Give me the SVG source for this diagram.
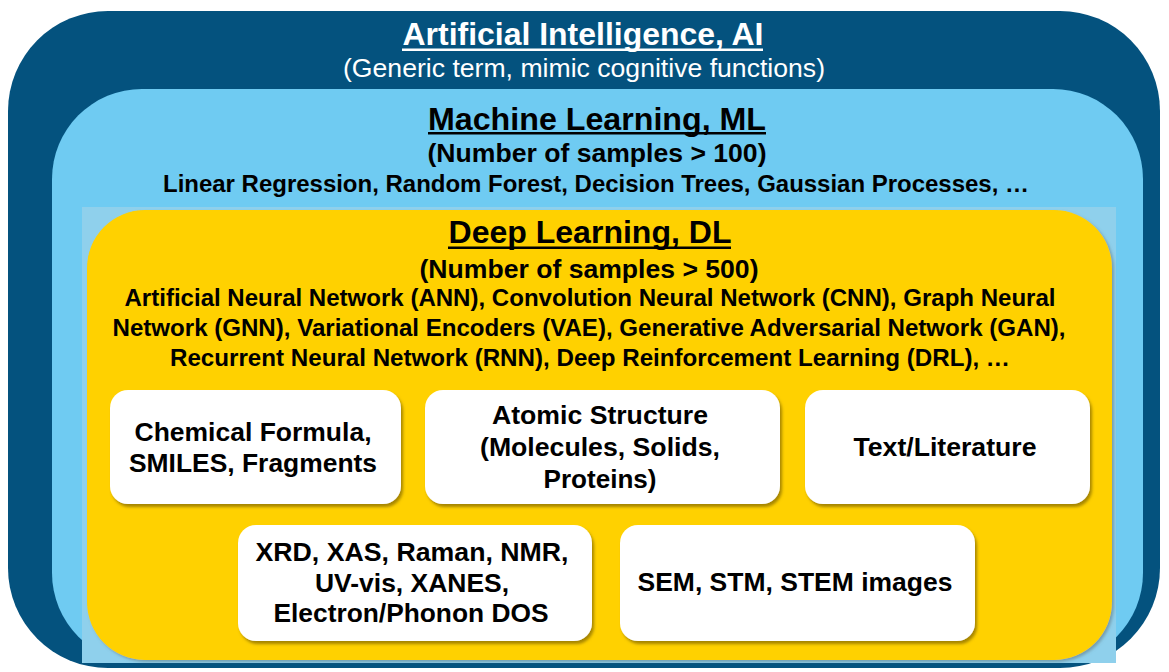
<svg xmlns="http://www.w3.org/2000/svg" width="1169" height="672" viewBox="0 0 1169 672">
<defs>
<filter id="sh" x="-5%" y="-5%" width="112%" height="115%">
<feDropShadow dx="2" dy="3" stdDeviation="1.5" flood-color="#6b5300" flood-opacity="0.6"/>
</filter>
<filter id="shy" x="-5%" y="-5%" width="112%" height="115%">
<feDropShadow dx="2" dy="2" stdDeviation="1.5" flood-color="#5a6a70" flood-opacity="0.5"/>
</filter>
<style>
text{font-family:"Liberation Sans",Arial,sans-serif;text-anchor:middle;}
.b{font-weight:bold;fill:#000;}
.box{fill:#fff;}
.w{fill:#fff;}
.bt{font-size:26px;}
.dl{font-size:24px;}
</style>
</defs>
<rect width="1169" height="672" fill="#fff"/>
<g id="ai">
<rect x="8" y="11" width="1152" height="657" rx="100" fill="#04527e"/>
<text x="583" y="45" class="w" font-weight="bold" font-size="31" textLength="361" lengthAdjust="spacingAndGlyphs">Artificial Intelligence, AI</text>
<rect x="402" y="48.5" width="361" height="2.5" fill="#fff"/>
<text x="584" y="77" class="w" font-size="25.5" textLength="482" lengthAdjust="spacingAndGlyphs">(Generic term, mimic cognitive functions)</text>
</g>
<g id="ml">
<rect x="52" y="89" width="1091" height="574" rx="90" fill="#6fcbf2"/>
<rect x="82" y="207" width="1034" height="456" fill="#8fd0ec"/>
<text x="597" y="130" class="b" font-size="32" textLength="338" lengthAdjust="spacingAndGlyphs">Machine Learning, ML</text>
<rect x="428" y="132" width="338" height="2.5" fill="#000"/>
<text x="597" y="162" class="b" font-size="26" textLength="339" lengthAdjust="spacingAndGlyphs">(Number of samples &gt; 100)</text>
<text x="596" y="192" class="b" font-size="23.5" textLength="866" lengthAdjust="spacingAndGlyphs">Linear Regression, Random Forest, Decision Trees, Gaussian Processes, …</text>
</g>
<g id="dl">
<rect x="87" y="210" width="1025" height="450" rx="58" fill="#ffd100" filter="url(#shy)"/>
<text x="590" y="243" class="b" font-size="32" textLength="283" lengthAdjust="spacingAndGlyphs">Deep Learning, DL</text>
<rect x="448" y="246.5" width="283" height="2.5" fill="#000"/>
<text x="589" y="278" class="b" font-size="26" textLength="339" lengthAdjust="spacingAndGlyphs">(Number of samples &gt; 500)</text>
<text x="590" y="306" class="b dl" textLength="931" lengthAdjust="spacingAndGlyphs">Artificial Neural Network (ANN), Convolution Neural Network (CNN), Graph Neural</text>
<text x="589" y="336" class="b dl" textLength="953" lengthAdjust="spacingAndGlyphs">Network (GNN), Variational Encoders (VAE), Generative Adversarial Network (GAN),</text>
<text x="590" y="366" class="b dl" textLength="840" lengthAdjust="spacingAndGlyphs">Recurrent Neural Network (RNN), Deep Reinforcement Learning (DRL), …</text>
</g>
<g id="chem">
<rect x="110" y="390" width="291" height="114" rx="18" class="box" filter="url(#sh)"/>
<text x="253" y="441" class="b bt" textLength="237" lengthAdjust="spacingAndGlyphs">Chemical Formula,</text>
<text x="253" y="472" class="b bt" textLength="248" lengthAdjust="spacingAndGlyphs">SMILES, Fragments</text>
</g>
<g id="atomic">
<rect x="425" y="390" width="355" height="114" rx="18" class="box" filter="url(#sh)"/>
<text x="600" y="424" class="b bt" textLength="216" lengthAdjust="spacingAndGlyphs">Atomic Structure</text>
<text x="600" y="456" class="b bt" textLength="240" lengthAdjust="spacingAndGlyphs">(Molecules, Solids,</text>
<text x="600" y="488" class="b bt" textLength="113" lengthAdjust="spacingAndGlyphs">Proteins)</text>
</g>
<g id="text">
<rect x="805" y="390" width="285" height="114" rx="18" class="box" filter="url(#sh)"/>
<text x="945" y="456" class="b bt" textLength="183" lengthAdjust="spacingAndGlyphs">Text/Literature</text>
</g>
<g id="spectra">
<rect x="238" y="525" width="354" height="116" rx="18" class="box" filter="url(#sh)"/>
<text x="412" y="561" class="b bt" textLength="313" lengthAdjust="spacingAndGlyphs">XRD, XAS, Raman, NMR,</text>
<text x="412" y="592" class="b bt" textLength="194" lengthAdjust="spacingAndGlyphs">UV-vis, XANES,</text>
<text x="411" y="622" class="b bt" textLength="275" lengthAdjust="spacingAndGlyphs">Electron/Phonon DOS</text>
</g>
<g id="images">
<rect x="620" y="525" width="355" height="116" rx="18" class="box" filter="url(#sh)"/>
<text x="795" y="591" class="b bt" textLength="315" lengthAdjust="spacingAndGlyphs">SEM, STM, STEM images</text>
</g>
<g id="connectors"/>
</svg>
